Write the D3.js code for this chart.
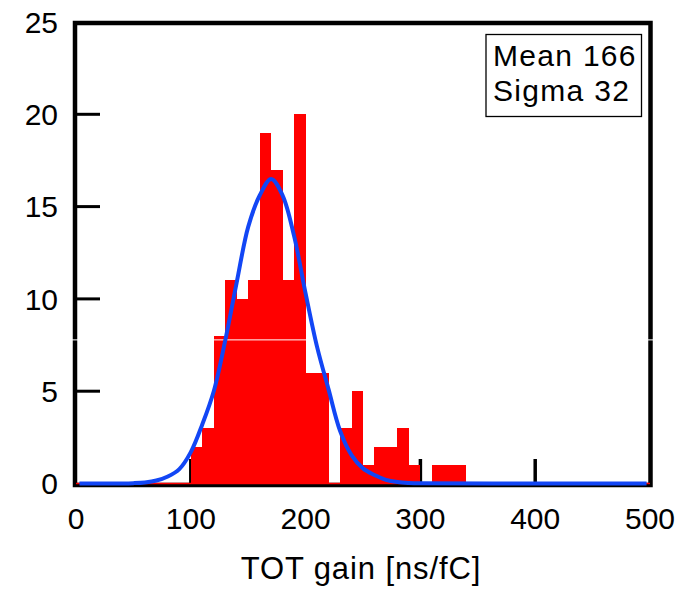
<!DOCTYPE html>
<meta charset="utf-8">
<style>
  body { margin: 0; background: #fff; }
  text { font-family: "Liberation Sans", Arial, sans-serif; fill: #000; }
</style>
<div id="chart"></div>
<script src="https://d3js.org/d3.v7.min.js"></script>
<script>
// histogram bins (left edge, width 10) and counts
var binStart = [100,110,120,130,140,150,160,170,180,190,200,210,220,230,240,250,260,270,280,290,300,310,320,330];
var binCount = [2,3,8,11,10,11,19,17,11,20,6,6,0,3,5,1,2,2,3,1,0,1,1,1];
var binWidth = 10;

// gaussian fit curve
var fitX = [3,40,50,60,70,80,90,100,110,120,130,140,150,160,170,180,190,200,210,220,230,240,250,260,270,280,290,300,400,497];
var fitY = [0,0.005,0.02,0.06,0.16,0.38,0.78,1.7,3.2,5.0,7.75,10.9,13.9,15.6,16.5,15.6,13.4,10.3,7.4,5.1,2.86,1.54,0.82,0.46,0.2,0.08,0.03,0.01,0,0];

var xTicks = [0,100,200,300,400,500];
var yTicks = [0,5,10,15,20,25];
var legendLines = ["Mean 166", "Sigma 32"];

var W = 689, H = 594;
var svg = d3.select("#chart").append("svg").attr("width", W).attr("height", H);

var x = d3.scaleLinear().domain([0, 500]).range([76, 650]);
var y = d3.scaleLinear().domain([0, 25]).range([483.5, 22]);

// frame
svg.append("rect")
  .attr("x", 75).attr("y", 23).attr("width", 575.5).attr("height", 462)
  .attr("fill", "none").attr("stroke", "#000").attr("stroke-width", 4.5);

// inward ticks
svg.selectAll(".yt").data(yTicks.slice(1, -1)).enter().append("line")
  .attr("x1", 75).attr("x2", 100)
  .attr("y1", function(d) { return y(d); }).attr("y2", function(d) { return y(d); })
  .attr("stroke", "#000").attr("stroke-width", 3);
svg.selectAll(".xt").data(xTicks.slice(1, -1)).enter().append("line")
  .attr("x1", function(d) { return x(d); }).attr("x2", function(d) { return x(d); })
  .attr("y1", 485).attr("y2", 459)
  .attr("stroke", "#000").attr("stroke-width", 3.5);

// histogram
var bins = binStart.map(function(s, i) { return {x0: s, x1: s + binWidth, n: binCount[i]}; });
svg.selectAll(".bar").data(bins.filter(function(d) { return d.n > 0; })).enter().append("rect")
  .attr("x", function(d) { return Math.round(x(d.x0)); })
  .attr("width", function(d) { return Math.round(x(d.x1)) - Math.round(x(d.x0)); })
  .attr("y", function(d) { return Math.round(y(d.n)); })
  .attr("height", function(d) { return Math.round(y(0)) - Math.round(y(d.n)); })
  .attr("fill", "#ff0000").attr("shape-rendering", "crispEdges");
svg.append("line")
  .attr("x1", x(0)).attr("x2", x(500)).attr("y1", y(0)).attr("y2", y(0))
  .attr("stroke", "#ff0000").attr("stroke-width", 1.5);

// thin white seam seen across the plot
svg.append("line")
  .attr("x1", 70).attr("x2", 656).attr("y1", y(7.78)).attr("y2", y(7.78))
  .attr("stroke", "#fff").attr("stroke-width", 1);

// fit curve
var fit = fitX.map(function(v, i) { return [v, fitY[i]]; });
svg.append("path").datum(fit)
  .attr("fill", "none").attr("stroke", "#1246f5").attr("stroke-width", 4)
  .attr("d", d3.line()
    .x(function(d) { return x(d[0]); })
    .y(function(d) { return y(d[1]); })
    .curve(d3.curveCatmullRom.alpha(0.5)));

// tick labels
svg.selectAll(".xl").data(xTicks).enter().append("text")
  .attr("x", function(d) { return x(d); }).attr("y", 529)
  .attr("text-anchor", "middle").attr("font-size", 30)
  .text(function(d) { return d; });
svg.selectAll(".yl").data(yTicks).enter().append("text")
  .attr("x", 58).attr("y", function(d) { return y(d) + 10.8; })
  .attr("text-anchor", "end").attr("font-size", 30)
  .text(function(d) { return d; });

// axis title
svg.append("text")
  .attr("x", 361).attr("y", 579)
  .attr("text-anchor", "middle").attr("font-size", 31).attr("letter-spacing", 0.9)
  .text("TOT gain [ns/fC]");

// stats box
svg.append("rect")
  .attr("x", 486).attr("y", 34.5).attr("width", 155.5).attr("height", 82)
  .attr("fill", "#fff").attr("stroke", "#000").attr("stroke-width", 1.3);
svg.selectAll(".lg").data(legendLines).enter().append("text")
  .attr("x", 493).attr("y", function(d, i) { return 66 + i * 35; })
  .attr("font-size", 30).attr("letter-spacing", 1.3)
  .text(function(d) { return d; });
</script>
